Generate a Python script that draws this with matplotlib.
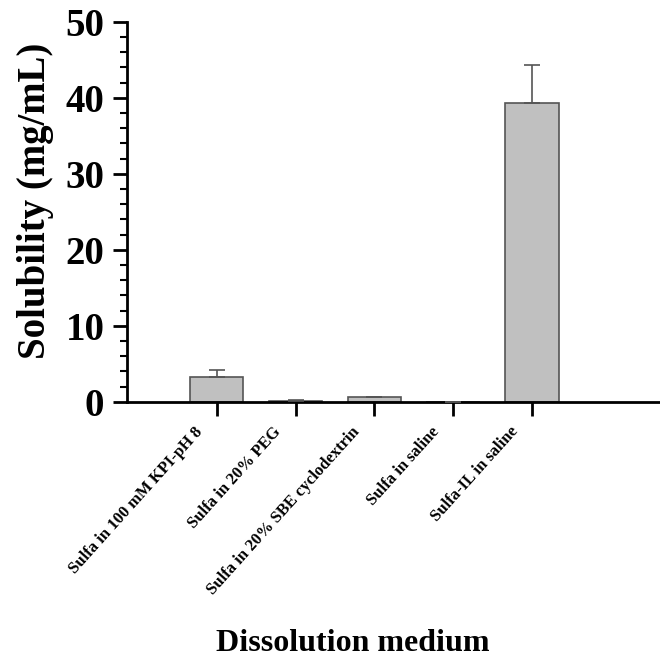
import matplotlib
matplotlib.use('Agg')
import matplotlib.pyplot as plt
import matplotlib.transforms as mtransforms
import numpy as np
from matplotlib.ticker import MultipleLocator

plt.rcParams['font.family'] = ['Liberation Serif', 'DejaVu Serif']
plt.rcParams['font.weight'] = 'bold'

# data
media = ['Sulfa in 100 mM KPI-pH 8', 'Sulfa in 20% PEG',
         'Sulfa in 20% SBE cyclodextrin', 'Sulfa in saline', 'Sulfa-IL in saline']
solubility = [3.3, 0.15, 0.6, 0.0, 39.3]
sd = [0.9, 0.05, 0.1, 0.0, 5.0]

fig = plt.figure(figsize=(6.6, 6.61), dpi=100)
ax = fig.add_axes([0.192, 0.392, 0.808, 0.575])

x = np.arange(len(media))
ax.bar(x, solubility, width=0.68, color='#c0c0c0', edgecolor='#555555', linewidth=1.2, zorder=2)
ax.errorbar(x, solubility, yerr=[np.zeros(len(sd)), sd], fmt='none',
            ecolor='#555555', elinewidth=1.2, capsize=6, capthick=1.2, zorder=3)

ax.set_xlim(-1.14, 4 + 1.62)
ax.set_ylim(0, 50)
ax.yaxis.set_major_locator(MultipleLocator(10))
ax.yaxis.set_minor_locator(MultipleLocator(2))

ax.set_xticks(x)
ax.set_xticklabels([])
# rotated category labels, sitting a bit left of their ticks like the original
lbl_tr = ax.get_xaxis_transform() + mtransforms.ScaledTranslation(-0.23, -0.22, fig.dpi_scale_trans)
for xi, name in zip(x, media):
    ax.text(xi, 0, name, transform=lbl_tr, rotation=48, ha='right', va='top',
            rotation_mode='anchor', fontsize=12, fontweight='bold')

for t in ax.get_yticklabels():
    t.set_fontsize(28)
    t.set_fontweight('bold')

for s in ['top', 'right']:
    ax.spines[s].set_visible(False)
for s in ['left', 'bottom']:
    ax.spines[s].set_linewidth(2)

ax.tick_params(axis='y', which='major', direction='out', length=10, width=2, pad=6)
ax.tick_params(axis='y', which='minor', direction='out', length=5, width=1.5)
ax.tick_params(axis='x', which='major', direction='out', length=10, width=2, pad=6)

ax.set_ylabel('Solubility (mg/mL)', fontsize=28, fontweight='bold')
ax.yaxis.set_label_coords(-0.137, 0.53)
fig.text(0.535, 0.015, 'Dissolution medium', fontsize=23, fontweight='bold', ha='center')

fig.savefig('out.png', dpi=100)
